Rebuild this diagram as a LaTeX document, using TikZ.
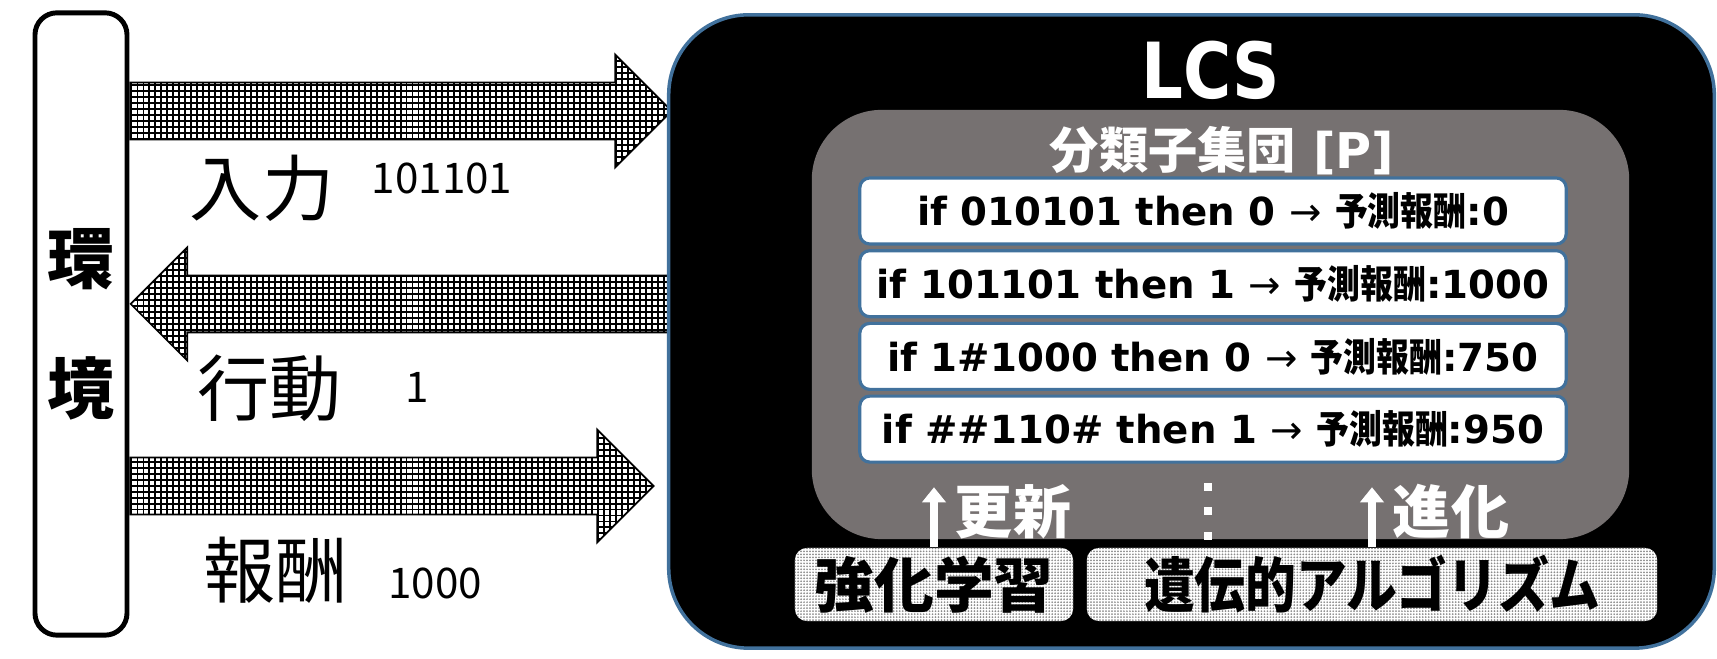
\documentclass[tikz,border=0pt]{standalone}
\usepackage{fontspec}
\setmainfont{DejaVu Sans}
\newfontfamily\jpfont{Noto Sans CJK JP}
\newfontfamily\jpcond[FakeStretch=0.85]{Noto Sans CJK JP}
\newfontfamily\lcsfont[FakeStretch=0.85]{DejaVu Sans}
\usepackage{xcolor}
\usepackage{tikz}
\usetikzlibrary{shapes.arrows,arrows.meta,positioning,patterns}
\definecolor{lcsblue}{RGB}{65,113,156}
\definecolor{popgray}{RGB}{118,113,113}
\pgfdeclarepatternformonly{finegrid}{\pgfqpoint{-0.5pt}{-0.5pt}}{\pgfqpoint{2.2pt}{2.2pt}}{\pgfqpoint{1.7pt}{1.7pt}}{%
  \pgfsetlinewidth{0.55pt}
  \pgfpathmoveto{\pgfqpoint{0pt}{0pt}}\pgfpathlineto{\pgfqpoint{1.8pt}{0pt}}
  \pgfpathmoveto{\pgfqpoint{0pt}{0pt}}\pgfpathlineto{\pgfqpoint{0pt}{1.8pt}}
  \pgfusepath{stroke}}
\pgfdeclarepatternformonly{finedots}{\pgfqpoint{-0.3pt}{-0.3pt}}{\pgfqpoint{0.3pt}{0.3pt}}{\pgfqpoint{0.85pt}{0.85pt}}{%
  \pgfpathcircle{\pgfqpoint{0pt}{0pt}}{0.28pt}\pgfusepath{fill}}

\begin{document}
\begin{tikzpicture}[
    x=0.01cm, y=-0.01cm,
    envbox/.style={rectangle, rounded corners=0.22cm, draw=black, line width=1.4pt, fill=white, minimum width=0.92cm, minimum height=6.22cm, align=center, font=\jpfont\bfseries\fontsize{19}{37}\selectfont},
    bigarrow/.style={single arrow, draw=black, line width=0.5pt, preaction={fill=white}, pattern=finegrid, inner xsep=0pt, inner ysep=0.275cm, single arrow head extend=0.28cm},
    iolabel/.style={inner sep=0pt, font=\jpfont\fontsize{20.5}{24}\selectfont},
    vallabel/.style={inner sep=0pt, font=\jpfont\fontsize{12}{14}\selectfont},
    lcsbox/.style={rectangle, rounded corners=0.8cm, draw=lcsblue, line width=1pt, fill=black, minimum width=10.45cm, minimum height=6.33cm},
    popbox/.style={rectangle, rounded corners=0.7cm, fill=popgray, minimum width=8.17cm, minimum height=4.29cm},
    rulebox/.style={rectangle, rounded corners=0.1cm, draw=lcsblue, line width=0.9pt, fill=white, minimum width=7.06cm, minimum height=0.66cm, inner sep=0pt, font=\bfseries\fontsize{11}{13}\selectfont},
    algbox/.style={rectangle, rounded corners=0.12cm, preaction={fill=white}, pattern=finedots, pattern color=black!45, minimum height=0.73cm, inner sep=0pt, font=\jpfont\bfseries\fontsize{17}{20}\selectfont},
    growlabel/.style={inner sep=0pt, text=white, font=\jpfont\bfseries\fontsize{16.5}{19}\selectfont},
    uparrow/.style={-{Triangle[width=0.23cm,length=0.15cm]}, white, line width=2pt}
]
\useasboundingbox (0,0) rectangle (1717,659);

% Environment
\node[envbox] (env) at (81,324) {環\\境};

% Big arrows
\node[bigarrow, anchor=tail, minimum height=5.41cm] (inarrow) at (env.east |- 0,111) {};
\node[bigarrow, anchor=tip, minimum height=5.75cm, shape border rotate=180] (actarrow) at (env.east |- 0,304) {};
\node[bigarrow, anchor=tail, minimum height=5.23cm] (rewarrow) at (env.east |- 0,486) {};

% Labels
\node[iolabel] (inlabel) at (262,188) {入力};
\node[vallabel] (inval) at (442,178) {101101};
\node[iolabel] (actlabel) at (270,388) {行動};
\node[vallabel] (actval) at (417,387) {1};
\node[iolabel] (rewlabel) at (276,570) {報酬};
\node[vallabel] (rewval) at (435,583) {1000};

% LCS
\node[lcsbox] (lcs) at (1191.5,331.5) {};
\node[text=white, inner sep=0pt, font=\lcsfont\bfseries\fontsize{22}{26}\selectfont] (lcstitle) at (1211,70) {LCS};

% Classifier population
\node[popbox] (pop) at (1220.5,324.5) {};
\node[text=white, inner sep=0pt, font=\bfseries\fontsize{14}{16}\selectfont] (poptitle) at (1222,151) {{\jpfont 分類子集団} [P]};

\node[rulebox] (r1) at (1213,211) {if 010101 then 0 {\mdseries →} {\jpcond 予測報酬}:0};
\node[rulebox, below=0.035cm of r1] (r2) {if 101101 then 1 {\mdseries →} {\jpcond 予測報酬}:1000};
\node[rulebox, below=0.035cm of r2] (r3) {if 1\#1000 then 0 {\mdseries →} {\jpcond 予測報酬}:750};
\node[rulebox, below=0.035cm of r3] (r4) {if \#\#110\# then 1 {\mdseries →} {\jpcond 予測報酬}:950};

% Learning
\node[algbox, minimum width=2.78cm] (rl) at (934,584.5) {強化学習};
\node[algbox, minimum width=5.70cm] (ga) at (1372,584.5) {\jpcond 遺伝的アルゴリズム};

\draw[uparrow] (rl.north) -- ++(0,-60);
\draw[uparrow] (ga.north) -- ++(0,-60);
\node[growlabel] (update) at (1013,512) {更新};
\node[growlabel] (evolve) at (1451,512) {進化};

\foreach \y in {487,511,536} {
    \fill[white] (1204,\y-4) rectangle (1212,\y+4);
}

\end{tikzpicture}
\end{document}
